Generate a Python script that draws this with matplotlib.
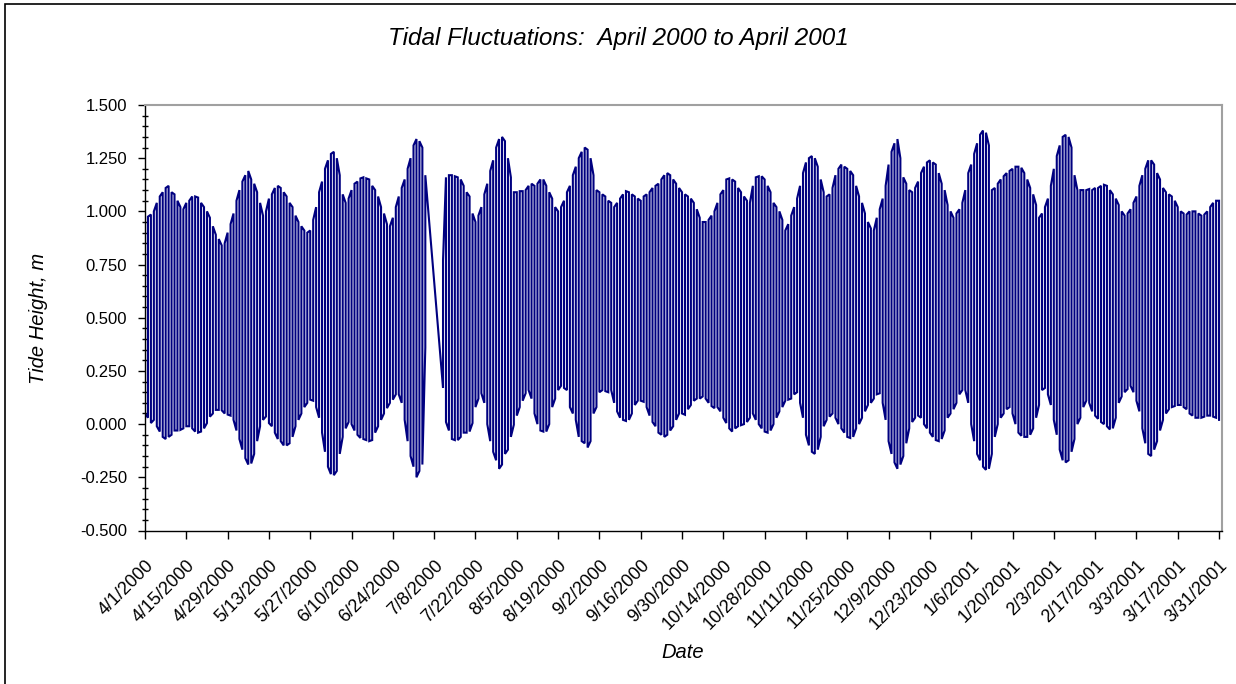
import numpy as np
import pandas as pd
import matplotlib
matplotlib.use('Agg')
import matplotlib.pyplot as plt
import matplotlib.dates as mdates
from matplotlib.ticker import MultipleLocator, FormatStrFormatter, FuncFormatter

############## DATA: daily high / low tide (m), one row = 14 days starting 4/1/2000
start_date = '2000-04-01'
daily_high = [
    0.97, 0.975, 0.985, 1.00, 1.04, 1.07, 1.09, 1.11, 1.12, 1.09, 1.08, 1.05, 1.02, 1.01,
    1.04, 1.05, 1.07, 1.07, 1.065, 1.04, 1.02, 1.00, 0.97, 0.93, 0.89, 0.87, 0.84, 0.85,
    0.90, 0.94, 0.99, 1.05, 1.10, 1.14, 1.17, 1.19, 1.15, 1.13, 1.09, 1.04, 0.98, 1.00,
    1.06, 1.08, 1.11, 1.12, 1.11, 1.09, 1.07, 1.04, 1.02, 0.98, 0.95, 0.93, 0.91, 0.90,
    0.91, 0.96, 1.02, 1.09, 1.14, 1.20, 1.24, 1.27, 1.28, 1.25, 1.17, 1.08, 1.04, 1.06,
    1.10, 1.13, 1.14, 1.155, 1.16, 1.155, 1.15, 1.12, 1.10, 1.07, 1.02, 0.99, 0.94, 0.93,
    0.97, 1.02, 1.07, 1.11, 1.15, 1.20, 1.25, 1.31, 1.34, 1.33, 1.30, 1.17, None, None,
    None, None, None, 0.77, 1.16, 1.17, 1.17, 1.165, 1.16, 1.15, 1.12, 1.09, 1.07, 0.99,
    0.95, 0.98, 1.02, 1.08, 1.13, 1.19, 1.24, 1.30, 1.34, 1.35, 1.33, 1.25, 1.16, 1.09,
    1.09, 1.095, 1.095, 1.10, 1.12, 1.13, 1.12, 1.13, 1.15, 1.15, 1.12, 1.09, 1.06, 1.02,
    1.00, 1.02, 1.05, 1.09, 1.12, 1.17, 1.21, 1.25, 1.28, 1.30, 1.29, 1.25, 1.17, 1.10,
    1.09, 1.08, 1.07, 1.05, 1.04, 1.02, 1.04, 1.06, 1.08, 1.095, 1.09, 1.08, 1.07, 1.06,
    1.05, 1.07, 1.08, 1.09, 1.11, 1.12, 1.13, 1.15, 1.17, 1.18, 1.17, 1.15, 1.13, 1.11,
    1.09, 1.08, 1.07, 1.06, 1.04, 1.01, 0.97, 0.95, 0.95, 0.96, 0.98, 1.00, 1.04, 1.08,
    1.10, 1.15, 1.155, 1.15, 1.14, 1.11, 1.09, 1.07, 1.05, 1.04, 1.12, 1.16, 1.165, 1.165,
    1.15, 1.12, 1.09, 1.04, 1.02, 1.00, 0.96, 0.91, 0.94, 0.98, 1.02, 1.06, 1.12, 1.18,
    1.23, 1.25, 1.26, 1.25, 1.21, 1.15, 1.09, 1.07, 1.08, 1.11, 1.17, 1.20, 1.22, 1.21,
    1.20, 1.19, 1.17, 1.12, 1.07, 1.04, 0.99, 0.95, 0.92, 0.91, 0.97, 1.01, 1.06, 1.12,
    1.22, 1.28, 1.32, 1.34, 1.25, 1.16, 1.13, 1.10, 1.09, 1.11, 1.14, 1.18, 1.21, 1.23,
    1.24, 1.23, 1.22, 1.18, 1.13, 1.10, 1.03, 1.00, 0.97, 0.99, 1.01, 1.04, 1.10, 1.18,
    1.22, 1.27, 1.32, 1.36, 1.38, 1.37, 1.31, 1.10, 1.11, 1.13, 1.15, 1.165, 1.18, 1.19,
    1.20, 1.21, 1.21, 1.205, 1.18, 1.15, 1.11, 1.08, 1.03, 0.97, 0.99, 1.02, 1.06, 1.12,
    1.20, 1.26, 1.31, 1.35, 1.36, 1.35, 1.30, 1.17, 1.10, 1.10, 1.10, 1.10, 1.105, 1.10,
    1.11, 1.11, 1.12, 1.125, 1.12, 1.10, 1.08, 1.06, 1.03, 1.00, 0.98, 0.99, 1.01, 1.04,
    1.07, 1.12, 1.17, 1.20, 1.24, 1.24, 1.22, 1.18, 1.15, 1.11, 1.09, 1.08, 1.07, 1.05,
    1.02, 1.00, 0.99, 0.985, 1.00, 1.00, 1.00, 0.99, 0.98, 0.985, 1.00, 1.02, 1.04, 1.05,
    1.05,
]
daily_low = [
    0.05, 0.03, 0.005, 0.02, -0.01, -0.035, -0.06, -0.07, -0.06, -0.05, -0.03, -0.03, -0.027, -0.02,
    -0.01, -0.01, -0.02, -0.035, -0.04, -0.035, -0.02, 0.005, 0.035, 0.05, 0.067, 0.067, 0.065, 0.05,
    0.045, 0.04, 0.02, -0.03, -0.07, -0.12, -0.16, -0.19, -0.185, -0.14, -0.08, -0.01, 0.02, 0.036,
    0.005, -0.01, -0.04, -0.07, -0.08, -0.10, -0.10, -0.09, -0.06, -0.01, 0.02, 0.05, 0.08, 0.10,
    0.115, 0.11, 0.08, 0.03, -0.04, -0.13, -0.20, -0.235, -0.24, -0.22, -0.14, -0.06, -0.02, 0.01,
    0.00, -0.03, -0.05, -0.065, -0.07, -0.075, -0.08, -0.075, -0.04, -0.01, 0.02, 0.05, 0.075, 0.10,
    0.115, 0.14, 0.14, 0.10, 0.02, -0.08, -0.15, -0.20, -0.25, -0.22, -0.19, 0.36, None, None,
    None, None, None, 0.17, 0.01, -0.03, -0.07, -0.075, -0.075, -0.06, -0.04, -0.04, -0.035, 0.005,
    0.08, 0.12, 0.145, 0.10, 0.00, -0.08, -0.13, -0.17, -0.21, -0.19, -0.14, -0.12, -0.06, -0.003,
    0.04, 0.08, 0.11, 0.145, 0.16, 0.12, 0.05, 0.00, -0.03, -0.035, -0.035, 0.00, 0.08, 0.12,
    0.16, 0.18, 0.17, 0.16, 0.08, 0.05, 0.02, -0.06, -0.08, -0.09, -0.11, -0.08, 0.05, 0.08,
    0.15, 0.16, 0.155, 0.15, 0.16, 0.10, 0.06, 0.03, 0.02, 0.015, 0.02, 0.05, 0.09, 0.11,
    0.11, 0.105, 0.08, 0.04, 0.01, -0.01, -0.04, -0.05, -0.06, -0.05, -0.03, -0.01, 0.02, 0.05,
    0.05, 0.044, 0.07, 0.09, 0.11, 0.12, 0.12, 0.13, 0.12, 0.10, 0.085, 0.075, 0.08, 0.06,
    0.03, 0.005, -0.02, -0.035, -0.02, -0.01, -0.005, 0.00, 0.01, 0.03, 0.05, 0.02, 0.00, -0.02,
    -0.035, -0.04, -0.03, 0.00, 0.03, 0.06, 0.08, 0.11, 0.115, 0.12, 0.14, 0.15, 0.10, 0.03,
    -0.05, -0.10, -0.13, -0.14, -0.12, -0.06, -0.01, 0.02, 0.035, 0.05, 0.03, 0.00, -0.02, -0.04,
    -0.06, -0.065, -0.06, -0.02, 0.00, 0.03, 0.06, 0.09, 0.10, 0.12, 0.14, 0.145, 0.10, 0.02,
    -0.08, -0.14, -0.18, -0.21, -0.19, -0.15, -0.09, -0.02, 0.01, 0.03, 0.04, 0.03, 0.00, -0.02,
    -0.04, -0.06, -0.075, -0.08, -0.07, -0.03, 0.03, 0.05, 0.07, 0.10, 0.14, 0.16, 0.16, 0.10,
    0.00, -0.08, -0.14, -0.17, -0.20, -0.215, -0.21, -0.14, -0.06, 0.00, 0.03, 0.05, 0.07, 0.08,
    0.05, 0.00, -0.04, -0.055, -0.06, -0.06, -0.05, -0.02, 0.03, 0.09, 0.16, 0.17, 0.14, 0.09,
    0.02, -0.05, -0.12, -0.17, -0.18, -0.17, -0.13, -0.07, 0.00, 0.03, 0.08, 0.11, 0.10, 0.06,
    0.04, 0.025, 0.01, 0.00, -0.01, -0.025, -0.02, 0.03, 0.10, 0.13, 0.15, 0.165, 0.18, 0.15,
    0.11, 0.06, -0.02, -0.09, -0.14, -0.15, -0.12, -0.08, -0.03, 0.02, 0.05, 0.07, 0.08, 0.085,
    0.09, 0.09, 0.08, 0.07, 0.05, 0.04, 0.03, 0.03, 0.03, 0.035, 0.04, 0.04, 0.035, 0.03,
    0.02,
]
tick_start, tick_end = '2000-04-01', '2001-03-31'

############## BUILD THE TRACE (each day: one up/down stroke, alternate direction -> serpentine)
dates = pd.date_range(start_date, periods=len(daily_high), freq='D')
hi = np.array(daily_high, dtype=float)
lo = np.array(daily_low, dtype=float)
ok = ~np.isnan(hi)
day_idx = np.arange(len(hi))[ok]
xd = mdates.date2num(dates[ok].to_pydatetime())
odd = day_idx % 2 == 1
first = np.where(odd, lo[ok], hi[ok])
second = np.where(odd, hi[ok], lo[ok])
x = np.repeat(xd, 2)
y = np.column_stack([first, second]).ravel()

############## FIGURE
plt.rcParams['font.family'] = ['Liberation Sans', 'DejaVu Sans']
W, H = 1236, 684
fig = plt.figure(figsize=(W / 100, H / 100), dpi=100)
ax = fig.add_axes([145 / W, 1 - 530.5 / H, (1222 - 145) / W, (530.5 - 105) / H])

ax.plot(x, y, color='#000080', linewidth=1.5, solid_joinstyle='miter')

ax.set_xlim(mdates.date2num(pd.Timestamp('2000-04-01')), mdates.date2num(pd.Timestamp('2001-04-01')))
ax.set_ylim(-0.5, 1.5)

ticks = mdates.date2num(pd.date_range(tick_start, tick_end, freq='14D').to_pydatetime())
ax.set_xticks(ticks)
ax.xaxis.set_major_formatter(FuncFormatter(
    lambda v, p: f"{mdates.num2date(v).month}/{mdates.num2date(v).day}/{mdates.num2date(v).year}"))
ax.yaxis.set_major_locator(MultipleLocator(0.25))
ax.yaxis.set_minor_locator(MultipleLocator(0.05))
ax.yaxis.set_major_formatter(FormatStrFormatter('%.3f'))

ax.tick_params(axis='y', which='major', direction='out', length=5, width=1, labelsize=12, pad=8)
ax.tick_params(axis='y', which='minor', direction='inout', length=5, width=1)
ax.tick_params(axis='x', which='major', direction='out', length=6, width=1, labelsize=13, pad=13)
plt.setp(ax.get_xticklabels(), rotation=45, ha='right', va='top', rotation_mode='anchor')

for s in ['top', 'right']:
    ax.spines[s].set_color('#a0a0a0')
    ax.spines[s].set_linewidth(1.5)
for s in ['left', 'bottom']:
    ax.spines[s].set_color('black')
    ax.spines[s].set_linewidth(1.0)

fig.text(618 / W, 1 - 39 / H, 'Tidal Fluctuations:  April 2000 to April 2001',
         ha='center', va='center', fontsize=17.5, style='italic')
fig.text(39 / W, 1 - 318 / H, 'Tide Height, m', ha='center', va='center',
         rotation=90, fontsize=14.5, style='italic')
fig.text(683 / W, 1 - 652 / H, 'Date', ha='center', va='center', fontsize=14.5, style='italic')

# chart-area border (only left and top edges fall inside the picture)
fig.patches.append(plt.Rectangle((5 / W, -0.02), 1.2, 1.02 - 4 / H, transform=fig.transFigure,
                                 fill=False, edgecolor='black', linewidth=1.2))

fig.savefig('out.png', dpi=100, facecolor='white')
